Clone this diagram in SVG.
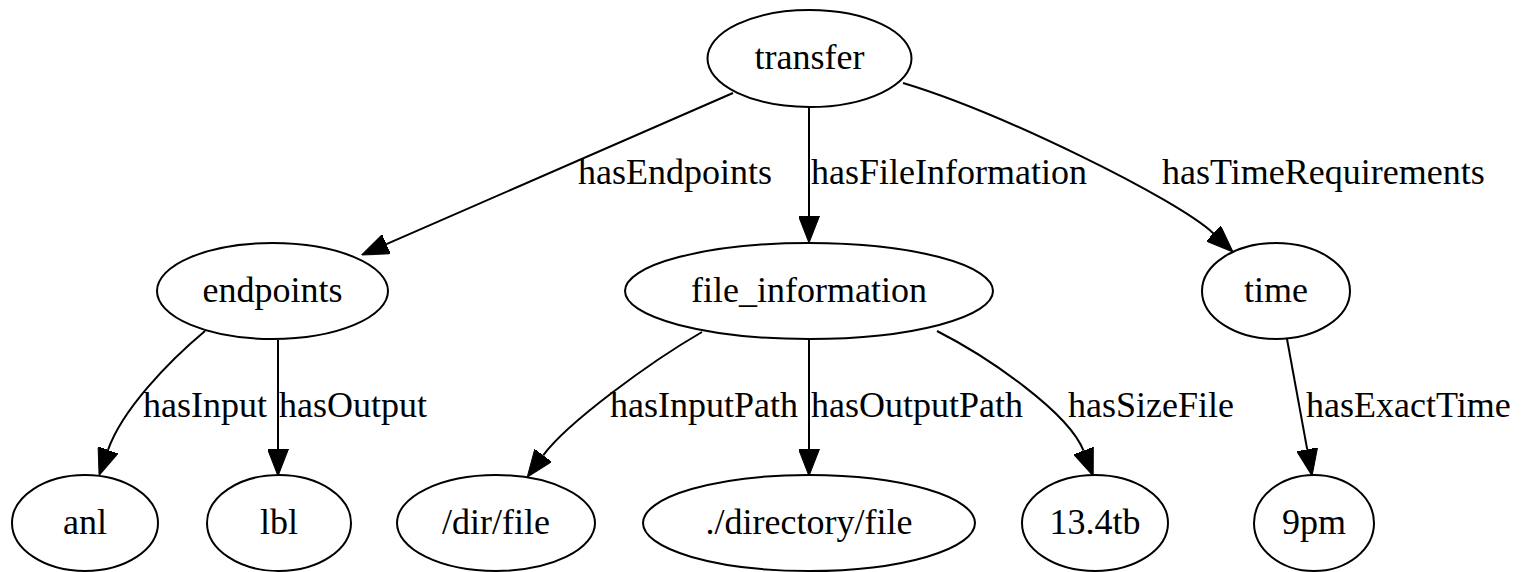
<svg xmlns="http://www.w3.org/2000/svg" width="1526" height="572" viewBox="0 0 1526 572">
<style>
  .node ellipse { fill: none; stroke: #000; stroke-width: 2; }
  .node text { font-family: "Liberation Serif", "Times New Roman", serif; font-size: 36px; text-anchor: middle; fill: #000; }
  .edge path { fill: none; stroke: #000; stroke-width: 2; }
  .edge text { font-family: "Liberation Serif", "Times New Roman", serif; font-size: 36px; fill: #000; }
</style>
<defs>
  <marker id="arrow" viewBox="0 0 27 21" refX="0" refY="10.5" markerWidth="27" markerHeight="21" markerUnits="userSpaceOnUse" orient="auto">
    <path d="M0,0 L27,10.5 L0,21 Z" fill="#000" stroke="#000" stroke-width="1"/>
  </marker>
</defs>
<rect width="1526" height="572" fill="#fff"/>
<g id="edges">
  <g class="edge" id="e-transfer-endpoints">
    <path d="M733,93 L386.4,244.2" marker-end="url(#arrow)"/>
    <text x="578" y="184">hasEndpoints</text>
  </g>
  <g class="edge" id="e-transfer-fileinfo">
    <path d="M809,107 L809,216" marker-end="url(#arrow)"/>
    <text x="811" y="184">hasFileInformation</text>
  </g>
  <g class="edge" id="e-transfer-time">
    <path d="M903,83 C1000,112 1177,199 1213.4,233.4" marker-end="url(#arrow)"/>
    <text x="1162" y="184">hasTimeRequirements</text>
  </g>
  <g class="edge" id="e-endpoints-anl">
    <path d="M205,331 C168,362 122,410 108,450" marker-end="url(#arrow)"/>
    <text x="143" y="417">hasInput</text>
  </g>
  <g class="edge" id="e-endpoints-lbl">
    <path d="M278,340 L278,449" marker-end="url(#arrow)"/>
    <text x="279" y="417">hasOutput</text>
  </g>
  <g class="edge" id="e-fileinfo-dirfile">
    <path d="M702,332 C650,362 567,423 543.2,455.4" marker-end="url(#arrow)"/>
    <text x="610" y="417">hasInputPath</text>
  </g>
  <g class="edge" id="e-fileinfo-directoryfile">
    <path d="M809,339 L809,449" marker-end="url(#arrow)"/>
    <text x="811" y="417">hasOutputPath</text>
  </g>
  <g class="edge" id="e-fileinfo-size">
    <path d="M937,331 C990,358 1069,413 1083.5,450.7" marker-end="url(#arrow)"/>
    <text x="1068" y="417">hasSizeFile</text>
  </g>
  <g class="edge" id="e-time-9pm">
    <path d="M1287,339 L1307.2,449.4" marker-end="url(#arrow)"/>
    <text x="1306" y="417">hasExactTime</text>
  </g>
</g>
<g class="node" id="transfer">
  <ellipse cx="809.5" cy="58.5" rx="102" ry="48.5"/>
  <text x="809.5" y="69">transfer</text>
</g>
<g class="node" id="endpoints">
  <ellipse cx="272.5" cy="291" rx="115.5" ry="48"/>
  <text x="272.5" y="302">endpoints</text>
</g>
<g class="node" id="file_information">
  <ellipse cx="809" cy="291" rx="184" ry="48"/>
  <text x="809" y="302">file_information</text>
</g>
<g class="node" id="time">
  <ellipse cx="1276" cy="291" rx="74" ry="48"/>
  <text x="1276" y="302">time</text>
</g>
<g class="node" id="anl">
  <ellipse cx="85" cy="523" rx="73" ry="48"/>
  <text x="85" y="534">anl</text>
</g>
<g class="node" id="lbl">
  <ellipse cx="279" cy="523" rx="72" ry="48"/>
  <text x="279" y="534">lbl</text>
</g>
<g class="node" id="dirfile">
  <ellipse cx="496" cy="523" rx="99" ry="48"/>
  <text x="496" y="534">/dir/file</text>
</g>
<g class="node" id="directoryfile">
  <ellipse cx="809" cy="523" rx="166" ry="48"/>
  <text x="809" y="534">./directory/file</text>
</g>
<g class="node" id="size">
  <ellipse cx="1095" cy="523" rx="73" ry="48"/>
  <text x="1095" y="534">13.4tb</text>
</g>
<g class="node" id="pm9">
  <ellipse cx="1314" cy="523" rx="60" ry="48"/>
  <text x="1314" y="534">9pm</text>
</g>
</svg>
